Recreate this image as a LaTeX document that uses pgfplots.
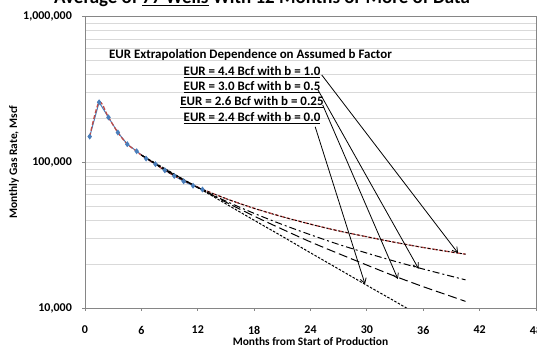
\documentclass[border=0pt]{standalone}
\usepackage{pgfplots}
\pgfplotsset{compat=1.18}
\usepackage{fontspec}
\setmainfont{Carlito}
\usetikzlibrary{arrows.meta}
\definecolor{xblue}{HTML}{4A7EBB}
\definecolor{xred}{HTML}{BE4B48}
\definecolor{xborder}{HTML}{868686}
\definecolor{xgrid}{HTML}{D9D9D9}
\newcommand\ul[1]{\setbox0\hbox{#1}\rlap{\rule[-2.2bp]{\wd0}{1.1bp}}\box0\relax}
\begin{document}
\begin{tikzpicture}
\begin{axis}[
  scale only axis,
  width=451bp, height=291.5bp,
  xmin=0, xmax=48,
  ymode=log, ymin=10000, ymax=1000000,
  xtick={0,6,12,18,24,30,36,42,48},
  ytick={10000,100000,1000000},
  yticklabels={{10,000},{100,000},{1,000,000}},
  minor ytick={20000,30000,40000,50000,60000,70000,80000,90000,200000,300000,400000,500000,600000,700000,800000,900000},
  ymajorgrids, yminorgrids,
  major grid style={draw=xgrid, line width=0.8pt},
  minor grid style={draw=xgrid, line width=0.8pt},
  axis line style={draw=xborder, line width=0.9pt},
  tick align=outside,
  major tick length=3bp,
  minor tick length=0pt,
  tick style={draw=xborder, line width=0.8pt},
  xtick pos=bottom, ytick pos=left,
  /pgf/number format/assume math mode=true,
  tick label style={font=\bfseries\fontsize{12}{14}\selectfont, inner sep=0pt},
  xticklabel style={anchor=center, yshift=-19bp},
  yticklabel style={anchor=east, xshift=-10bp},
  clip=true,
]
% measured data
\addplot[color=xblue, line width=1pt, mark=diamond*, mark size=2.2pt, mark options={fill=xblue, draw=xblue}] coordinates {
 (0.5,150000) (1.5,258000) (2.5,203000) (3.5,160000) (4.5,133000) (5.5,119000)
 (6.5,106000) (7.5,97000) (8.5,88000) (9.5,80500) (10.5,74000) (11.5,69000) (12.5,65000)
};
% b = 1.0 fit (red dashed)
\addplot[color=xred, line width=1.3pt, dash pattern=on 4bp off 2bp, smooth] coordinates {
 (0.5,150000) (1.5,258000) (2.5,203000) (3.5,160000) (4.5,133000) (5.5,119000)
 (6,112000) (9,84200) (12,67500) (15,56300) (18,48300) (21,42300) (24,37600)
 (27,33800) (30,30800) (33,28200) (36,26000) (39,24200) (40.5,23400)
};
% b = 1.0 black dotted
\addplot[black, line width=0.8pt, dash pattern=on 2bp off 2bp, smooth] coordinates {
 (6,112000) (9,84200) (12,67500) (15,56300) (18,48300) (21,42300) (24,37600)
 (27,33800) (30,30800) (33,28200) (36,26000) (39,24200) (40.5,23400)
};
% b = 0.5
\addplot[black, line width=1pt, dash pattern=on 7bp off 3bp on 2bp off 3bp, smooth] coordinates {
 (6,112000) (9,85200) (12,67000) (15,54100) (18,44600) (21,37400) (24,31800)
 (27,27300) (30,23800) (33,20900) (36,18500) (39,16500) (40.5,15600)
};
% b = 0.25
\addplot[black, line width=1pt, dash pattern=on 9bp off 4bp, smooth] coordinates {
 (6,112000) (9,86100) (12,67200) (15,53200) (18,42700) (21,34700) (24,28400)
 (27,23600) (30,19700) (33,16500) (36,14000) (39,12000) (40.5,11100)
};
% b = 0.0
\addplot[black, line width=1pt, dash pattern=on 2.5bp off 1.5bp, smooth] coordinates {
 (6,112000) (9,86600) (12,67000) (15,51800) (18,40000) (21,31000) (24,23900)
 (27,18500) (30,14300) (33,11100) (36,8570)
};
% annotation arrows
\draw[black, line width=0.8pt, -{Straight Barb[length=5bp,width=6bp]}] (axis cs:25.2,397000) -- (axis cs:39.7,23800);
\draw[black, line width=0.8pt, -{Straight Barb[length=5bp,width=6bp]}] (axis cs:24.8,313000) -- (axis cs:35.5,18600);
\draw[black, line width=0.8pt, -{Straight Barb[length=5bp,width=6bp]}] (axis cs:25.3,247000) -- (axis cs:33.3,15800);
\draw[black, line width=0.8pt, -{Straight Barb[length=5bp,width=6bp]}] (axis cs:24.5,175000) -- (axis cs:29.8,14600);
\end{axis}
% annotation texts
\begin{scope}[every node/.style={font=\bfseries\fontsize{13}{15}\selectfont, inner sep=0pt}]
\node at ([xshift=165.5bp, yshift=-38.5bp]current axis.north west) {EUR Extrapolation Dependence on Assumed b Factor};
\node at ([xshift=167bp, yshift=-55.5bp]current axis.north west) {\ul{EUR = 4.4 Bcf with b = 1.0}};
\node at ([xshift=167bp, yshift=-70.5bp]current axis.north west) {\ul{EUR = 3.0 Bcf with b = 0.5}};
\node at ([xshift=167bp, yshift=-85.5bp]current axis.north west) {\ul{EUR = 2.6 Bcf with b = 0.25}};
\node at ([xshift=167bp, yshift=-101.5bp]current axis.north west) {\ul{EUR = 2.4 Bcf with b = 0.0}};
\end{scope}
% axis titles
\node[font=\bfseries\fontsize{11.5}{13}\selectfont, rotate=90, inner sep=0pt] at ([xshift=-71bp]current axis.west) {Monthly Gas Rate, Mscf};
\node[font=\bfseries\fontsize{11.5}{13}\selectfont, inner sep=0pt] at ([yshift=-34bp]current axis.south) {Months from Start of Production};
% chart title (clipped at the top as in the reference)
\node[anchor=base, font=\bfseries\fontsize{19}{22}\selectfont, inner sep=0pt] at ([xshift=177bp, yshift=12.5bp]current axis.north west) {Average of \ul{77 Wells} With 12 Months or More of Data};
\pgfresetboundingbox
\path ([xshift=-85bp, yshift=-41bp]current axis.south west) rectangle ([xshift=1bp, yshift=16.5bp]current axis.north east);
\end{tikzpicture}
\end{document}
